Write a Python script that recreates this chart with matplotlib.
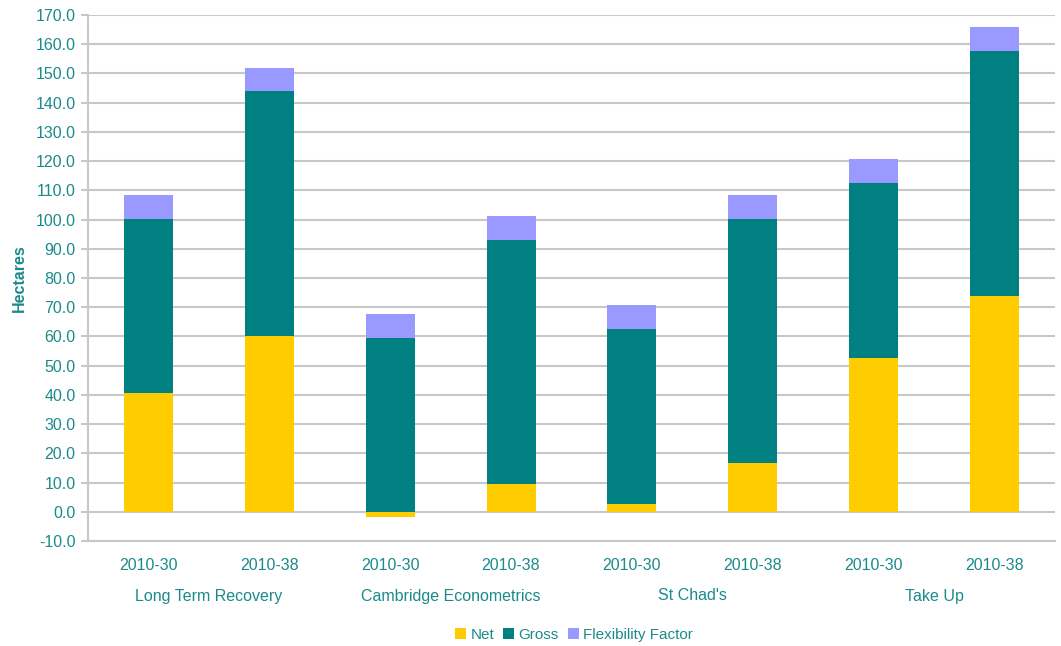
import matplotlib
matplotlib.use("Agg")
import matplotlib.pyplot as plt
import matplotlib.transforms as mtransforms
import numpy as np

plt.rcParams['font.family'] = ['Liberation Sans', 'DejaVu Sans']

# stacked segments in hectares, one entry per bar
periods = ['2010-30', '2010-38'] * 4
scenarios = ['Long Term Recovery', 'Cambridge Econometrics', "St Chad's", 'Take Up']
net = [40.6, 60.1, -1.8, 9.4, 2.6, 16.6, 52.7, 73.9]
gross = [59.6, 83.8, 59.6, 83.6, 59.9, 83.6, 59.9, 83.8]
flex = [8.2, 8.1, 8.1, 8.3, 8.3, 8.2, 8.2, 8.2]

c_net = '#FFCC00'
c_gross = '#008080'
c_flex = '#9999FF'
txt = '#1A8A8A'
grid_c = '#C8C8C8'
fs = 11.5

fig = plt.figure(figsize=(10.61, 6.46), dpi=100)
ax = fig.add_axes([88 / 1061, 1 - 541 / 646, (1055 - 88) / 1061, (541 - 15) / 646])

x = np.arange(len(net))
w = 0.405
net_a = np.array(net)
base = np.clip(net_a, 0, None)
ax.bar(x, net_a, w, color=c_net, label='Net', zorder=3)
ax.bar(x, gross, w, bottom=base, color=c_gross, label='Gross', zorder=3)
ax.bar(x, flex, w, bottom=base + np.array(gross), color=c_flex, label='Flexibility Factor', zorder=3)

ax.set_xlim(-0.5, len(net) - 0.5)
ax.set_ylim(-10, 170)
ax.set_yticks(np.arange(-10, 171, 10))
ax.set_yticklabels([f'{v:.1f}' for v in np.arange(-10, 171, 10)])
ax.yaxis.grid(True, color=grid_c, lw=1.5, zorder=0)
ax.set_axisbelow(True)

ax.set_xticks(x)
ax.set_xticklabels(periods)
ax.tick_params(axis='x', length=0, pad=12, labelsize=fs, labelcolor=txt)
ax.tick_params(axis='y', length=5, width=1.5, color=grid_c, labelsize=fs, labelcolor=txt, pad=4)

for s in ['top', 'right']:
    ax.spines[s].set_visible(False)
for s in ['left', 'bottom']:
    ax.spines[s].set_color(grid_c)
    ax.spines[s].set_linewidth(1.5)

ax.set_ylabel('Hectares', color=txt, fontsize=fs, fontweight='bold', labelpad=6)

trans = mtransforms.blended_transform_factory(ax.transData, fig.transFigure)
for i, name in enumerate(scenarios):
    ax.text(2 * i + 0.5, 1 - 596 / 646, name, transform=trans, ha='center', va='center',
            fontsize=fs, color=txt)

leg = fig.legend(loc='center', bbox_to_anchor=(574 / 1061, 1 - 635 / 646), ncol=3,
                 frameon=False, handlelength=0.7, handleheight=0.7, handletextpad=0.3,
                 columnspacing=0.6, fontsize=11)
for t in leg.get_texts():
    t.set_color(txt)

fig.savefig('out.png', dpi=100)
